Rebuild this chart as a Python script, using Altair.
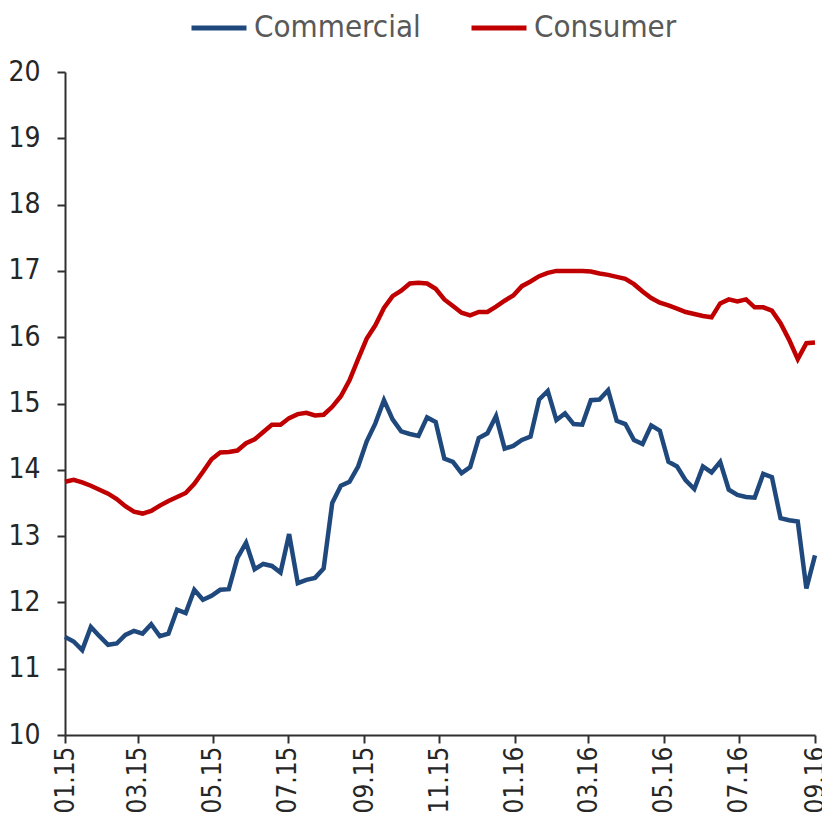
import altair as alt
import pandas as pd

# Weekly observations, Jan 2015 - Sep 2016
commercial = [11.48, 11.41, 11.28, 11.63, 11.49, 11.36, 11.38, 11.51, 11.57, 11.53, 11.67, 11.49, 11.53, 11.89, 11.84,
              12.19, 12.04, 12.10, 12.19, 12.20, 12.67, 12.90, 12.50, 12.58, 12.55, 12.45, 13.03, 12.29, 12.34, 12.37,
              12.51, 13.50, 13.76, 13.82, 14.05, 14.43, 14.70, 15.05, 14.76, 14.58, 14.54, 14.51, 14.79, 14.72,
              14.17, 14.12, 13.95, 14.04, 14.48, 14.55, 14.81, 14.32, 14.36, 14.45, 14.50, 15.06, 15.19, 14.75, 14.85,
              14.69, 14.68, 15.05, 15.06, 15.20, 14.74, 14.69, 14.45, 14.39, 14.67, 14.59, 14.12, 14.05, 13.84,
              13.71, 14.05, 13.96, 14.12, 13.70, 13.62, 13.59, 13.58, 13.94, 13.89, 13.27, 13.24, 13.22, 12.21, 12.71]
consumer = [13.82, 13.85, 13.81, 13.76, 13.70, 13.64, 13.56, 13.45, 13.37, 13.34, 13.38, 13.46, 13.53, 13.59, 13.65,
            13.79, 13.97, 14.16, 14.26, 14.27, 14.29, 14.40, 14.46, 14.57, 14.68, 14.68, 14.78, 14.84, 14.86, 14.82,
            14.83, 14.95, 15.11, 15.35, 15.67, 15.98, 16.18, 16.44, 16.62, 16.70, 16.81, 16.82, 16.81, 16.73,
            16.57, 16.47, 16.37, 16.33, 16.38, 16.38, 16.46, 16.55, 16.63, 16.77, 16.84, 16.92, 16.97, 17.00, 17.00,
            17.00, 17.00, 16.99, 16.96, 16.94, 16.91, 16.88, 16.80, 16.69, 16.59, 16.52, 16.48, 16.43, 16.38,
            16.35, 16.32, 16.30, 16.51, 16.57, 16.54, 16.57, 16.45, 16.45, 16.40, 16.21, 15.96, 15.67, 15.91, 15.92]
series_names = ["Commercial", "Consumer"]
series_colors = ["#1F497D", "#C00000"]
tick_months = [(2015, 1), (2015, 3), (2015, 5), (2015, 7), (2015, 9), (2015, 11),
               (2016, 1), (2016, 3), (2016, 5), (2016, 7), (2016, 9)]
y_ticks = list(range(10, 21))

n = len(commercial)
dates = pd.date_range("2015-01-01", periods=n, freq="7D")
df = pd.DataFrame({
    "date": list(dates) + list(dates),
    "value": commercial + consumer,
    "series": [series_names[0]] * n + [series_names[1]] * n,
})

FONT = "DejaVu Sans Condensed, Liberation Sans"

chart = alt.Chart(df).mark_line(strokeWidth=4.5).encode(
    x=alt.X("date:T",
            scale=alt.Scale(domain=[alt.DateTime(year=2015, month=1, date=1),
                                    alt.DateTime(year=2016, month=9, date=1)]),
            axis=alt.Axis(values=[alt.DateTime(year=y, month=m, date=1) for y, m in tick_months],
                          format="%m.%y", labelAngle=270, labelAlign="right", labelBaseline="middle",
                          labelPadding=3, labelFontSize=26, title=None)),
    y=alt.Y("value:Q", scale=alt.Scale(domain=[10, 20], nice=False, zero=False),
            axis=alt.Axis(values=y_ticks, labelPadding=17, labelFontSize=28, title=None)),
    color=alt.Color("series:N",
                    scale=alt.Scale(domain=series_names, range=series_colors),
                    legend=alt.Legend(title=None, orient="none", legendX=124, legendY=-74,
                                      direction="horizontal", symbolType="stroke",
                                      symbolStrokeWidth=5, symbolSize=3025, labelOffset=5,
                                      columnPadding=40, labelFontSize=31, labelColor="#595959",
                                      labelFont=FONT, labelLimit=0, padding=0)),
).properties(
    width=750, height=663,
    autosize=alt.AutoSizeParams(type="none"),
    padding={"left": 57, "top": 64, "right": 7, "bottom": 90},
).configure_view(stroke=None).configure_axis(
    grid=False, domainColor="#303030", domainWidth=2, tickColor="#303030", tickWidth=2,
    tickSize=8, labelColor="#262626", labelFont=FONT,
)

chart.save("out.html", embed_options={"renderer": "svg", "actions": False})
